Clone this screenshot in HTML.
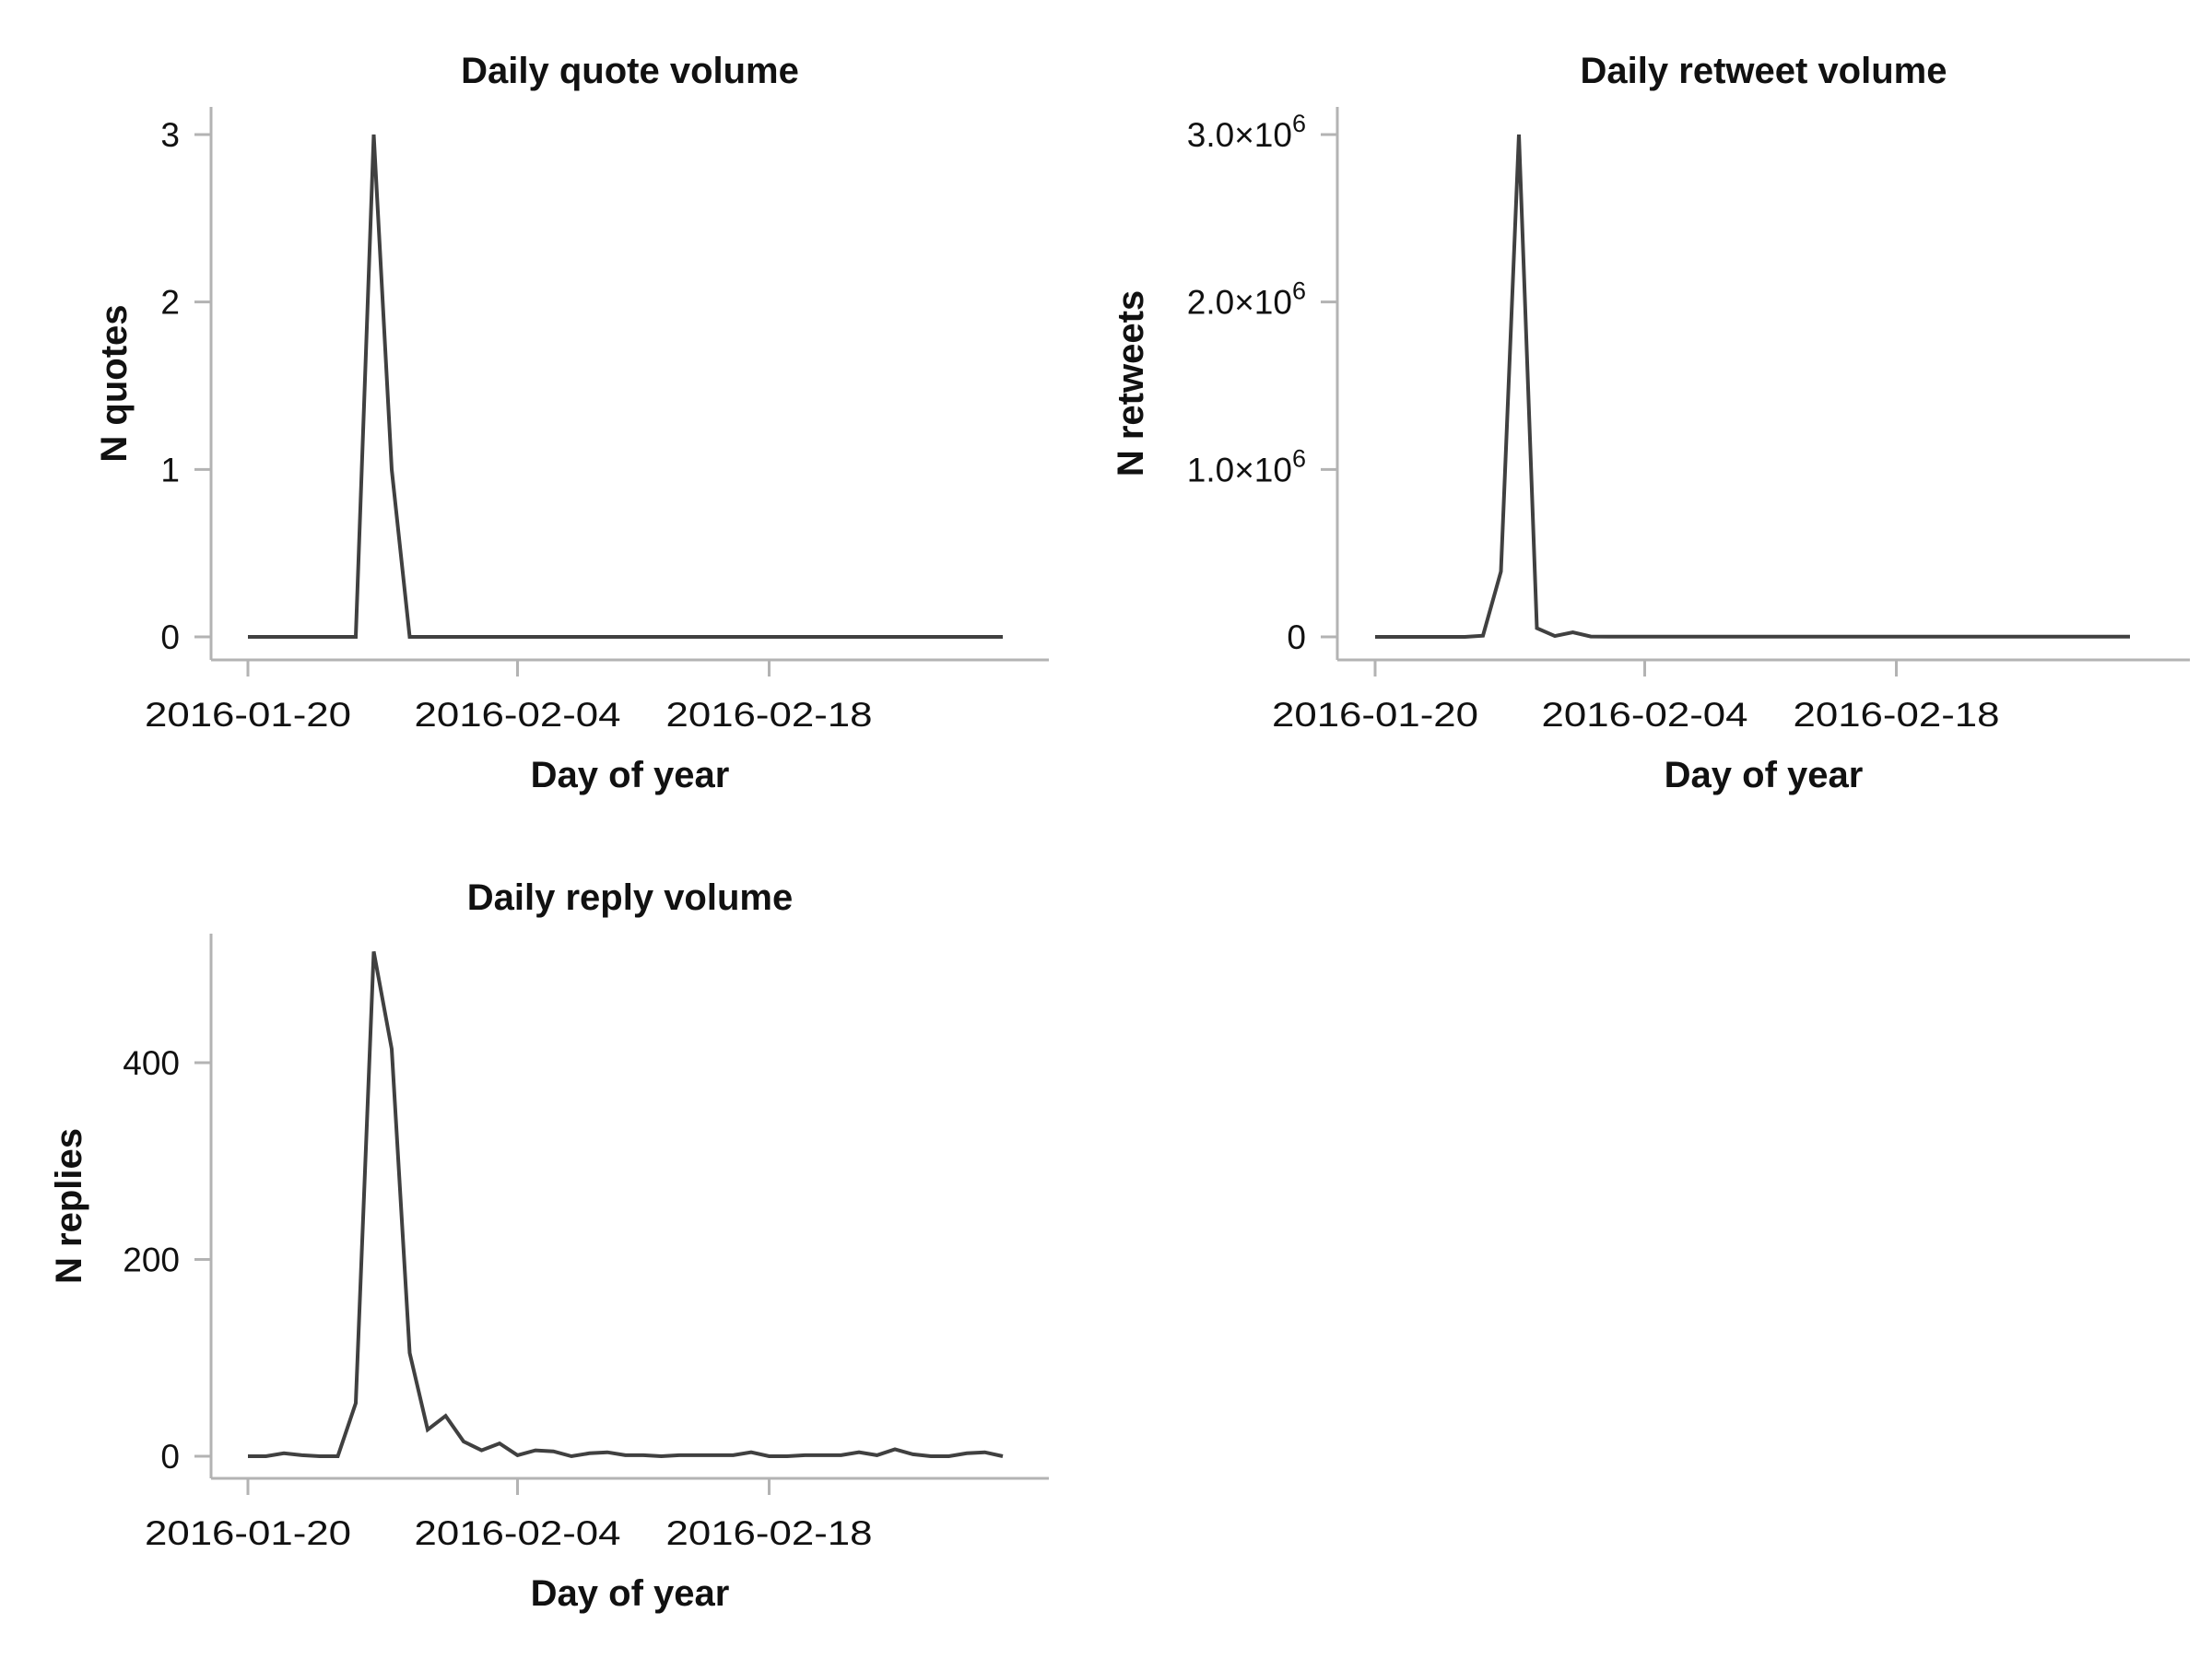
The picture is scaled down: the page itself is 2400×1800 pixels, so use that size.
<!DOCTYPE html>
<html><head><meta charset="utf-8"><style>
html,body{margin:0;padding:0;background:#fff}
svg{display:block}
text{font-family:"Liberation Sans",sans-serif;fill:#111}
.tick{font-size:37px;font-weight:300}
.title{font-size:40px;font-weight:bold}
.lab{font-size:40px;font-weight:bold}
</style></head><body>
<svg id="chart" width="2400" height="1800" viewBox="0 0 2400 1800" xmlns="http://www.w3.org/2000/svg"></svg>
<script>
const dayCount = 43;
const xTickDays = [0, 15, 29];
const xTickLabels = ["2016-01-20", "2016-02-04", "2016-02-18"];
const quoteValues = [0,0,0,0,0,0,0,3,1,0,0,0,0,0,0,0,0,0,0,0,0,0,0,0,0,0,0,0,0,0,0,0,0,0,0,0,0,0,0,0,0,0,0];
const retweetValues = [0,0,0,0,0,0,7000,390000,3000000,52000,5000,27000,2000,1000,1000,1000,1000,1000,1000,1000,1000,1000,1000,1000,1000,1000,1000,1000,1000,1000,1000,1000,1000,1000,1000,1000,1000,1000,1000,1000,1000,1000,1000];
const replyValues = [0,0,3,1,0,0,54,513,414,105,27,41,15,6,13,1,6,5,0,3,4,1,1,0,1,1,1,1,4,0,0,1,1,1,4,1,7,2,0,0,3,4,0];
const quoteTicks = [0,1,2,3];
const quoteTickLabels = ["0","1","2","3"];
const retweetTicks = [0,1000000,2000000,3000000];
const retweetTickLabels = ["0","1.0×10|6","2.0×10|6","3.0×10|6"];
const replyTicks = [0,200,400];
const replyTickLabels = ["0","200","400"];

const NS = "http://www.w3.org/2000/svg";
const svg = document.getElementById('chart');
function mk(tag, attrs, parent){const e=document.createElementNS(NS,tag);for(const k in attrs)e.setAttribute(k,attrs[k]);(parent||svg).appendChild(e);return e;}

function panel(cfg){
  const g = mk('g',{});
  
  
  const xS = d => cfg.x0 + d*cfg.dx;
  const yS = v => cfg.yZero - (v/cfg.yMax)*(cfg.yZero - cfg.yTop);
  const ya = mk('line',{x1:cfg.ax,y1:cfg.axTop,x2:cfg.ax,y2:cfg.axBottom,stroke:'#b3b3b3','stroke-width':3},g);
  
  
  const xa = mk('line',{x1:cfg.ax,y1:cfg.axBottom,x2:cfg.axRight,y2:cfg.axBottom,stroke:'#b3b3b3','stroke-width':3},g);
  
  
  cfg.yTicks.forEach((v,i)=>{
    const y=yS(v);
    const t=mk('line',{x1:cfg.ax-18,y1:y,x2:cfg.ax,y2:y,stroke:'#b3b3b3','stroke-width':3},g);
    
    
    const tx=mk('text',{x:cfg.ax-34,y:y+13,'text-anchor':'end',class:'tick'},g);
    const parts=cfg.yLabels[i].split('|');
    tx.textContent=parts[0];
    if(parts.length>1){
      const sp=mk('tspan',{dy:-16,'font-size':27},tx);
      sp.textContent=parts[1];
    }
    
    
  });
  xTickDays.forEach((d,i)=>{
    const x=xS(d);
    const t=mk('line',{x1:x,y1:cfg.axBottom,x2:x,y2:cfg.axBottom+18,stroke:'#b3b3b3','stroke-width':3},g);
    
    
    const tx=mk('text',{x:x,y:cfg.axBottom+72,'text-anchor':'middle',class:'tick',textLength:224,lengthAdjust:'spacingAndGlyphs'},g);
    tx.textContent=xTickLabels[i];
    
    
  });
  const pts = cfg.values.map((v,i)=>xS(i).toFixed(1)+','+yS(v).toFixed(1)).join(' ');
  const line = mk('polyline',{points:pts,fill:'none',stroke:'#404040','stroke-width':4,'stroke-linejoin':'miter'},g);
  
  
  const cx=(cfg.ax+cfg.axRight)/2;
  const ti=mk('text',{x:cx,y:cfg.titleY,'text-anchor':'middle',class:'title'},g);
  ti.textContent=cfg.title;
  
  
  const xl=mk('text',{x:cx,y:cfg.axBottom+138,'text-anchor':'middle',class:'lab'},g);
  xl.textContent='Day of year';
  
  
  const ym=(cfg.axTop+cfg.axBottom)/2;
  const yl=mk('text',{x:cfg.ylx,y:ym,'text-anchor':'middle',class:'lab',transform:'rotate(-90 '+cfg.ylx+' '+ym+')'},g);
  yl.textContent=cfg.ylabel;
  
  
}

panel({name:'quote-panel',title:'Daily quote volume',ylabel:'N quotes',values:quoteValues,yTicks:quoteTicks,yLabels:quoteTickLabels,
  yMax:3,yZero:691,yTop:146,ax:229,axTop:116,axBottom:716,axRight:1138,x0:269,dx:19.5,titleY:90,ylx:137});
panel({name:'retweet-panel',title:'Daily retweet volume',ylabel:'N retweets',values:retweetValues,yTicks:retweetTicks,yLabels:retweetTickLabels,
  yMax:3000000,yZero:691,yTop:146,ax:1451,axTop:116,axBottom:716,axRight:2376,x0:1492,dx:19.5,titleY:90,ylx:1240});
panel({name:'reply-panel',title:'Daily reply volume',ylabel:'N replies',values:replyValues,yTicks:replyTicks,yLabels:replyTickLabels,
  yMax:400,yZero:1580,yTop:1153,ax:229,axTop:1013,axBottom:1604,axRight:1138,x0:269,dx:19.5,titleY:987,ylx:88});
</script>
</body></html>
